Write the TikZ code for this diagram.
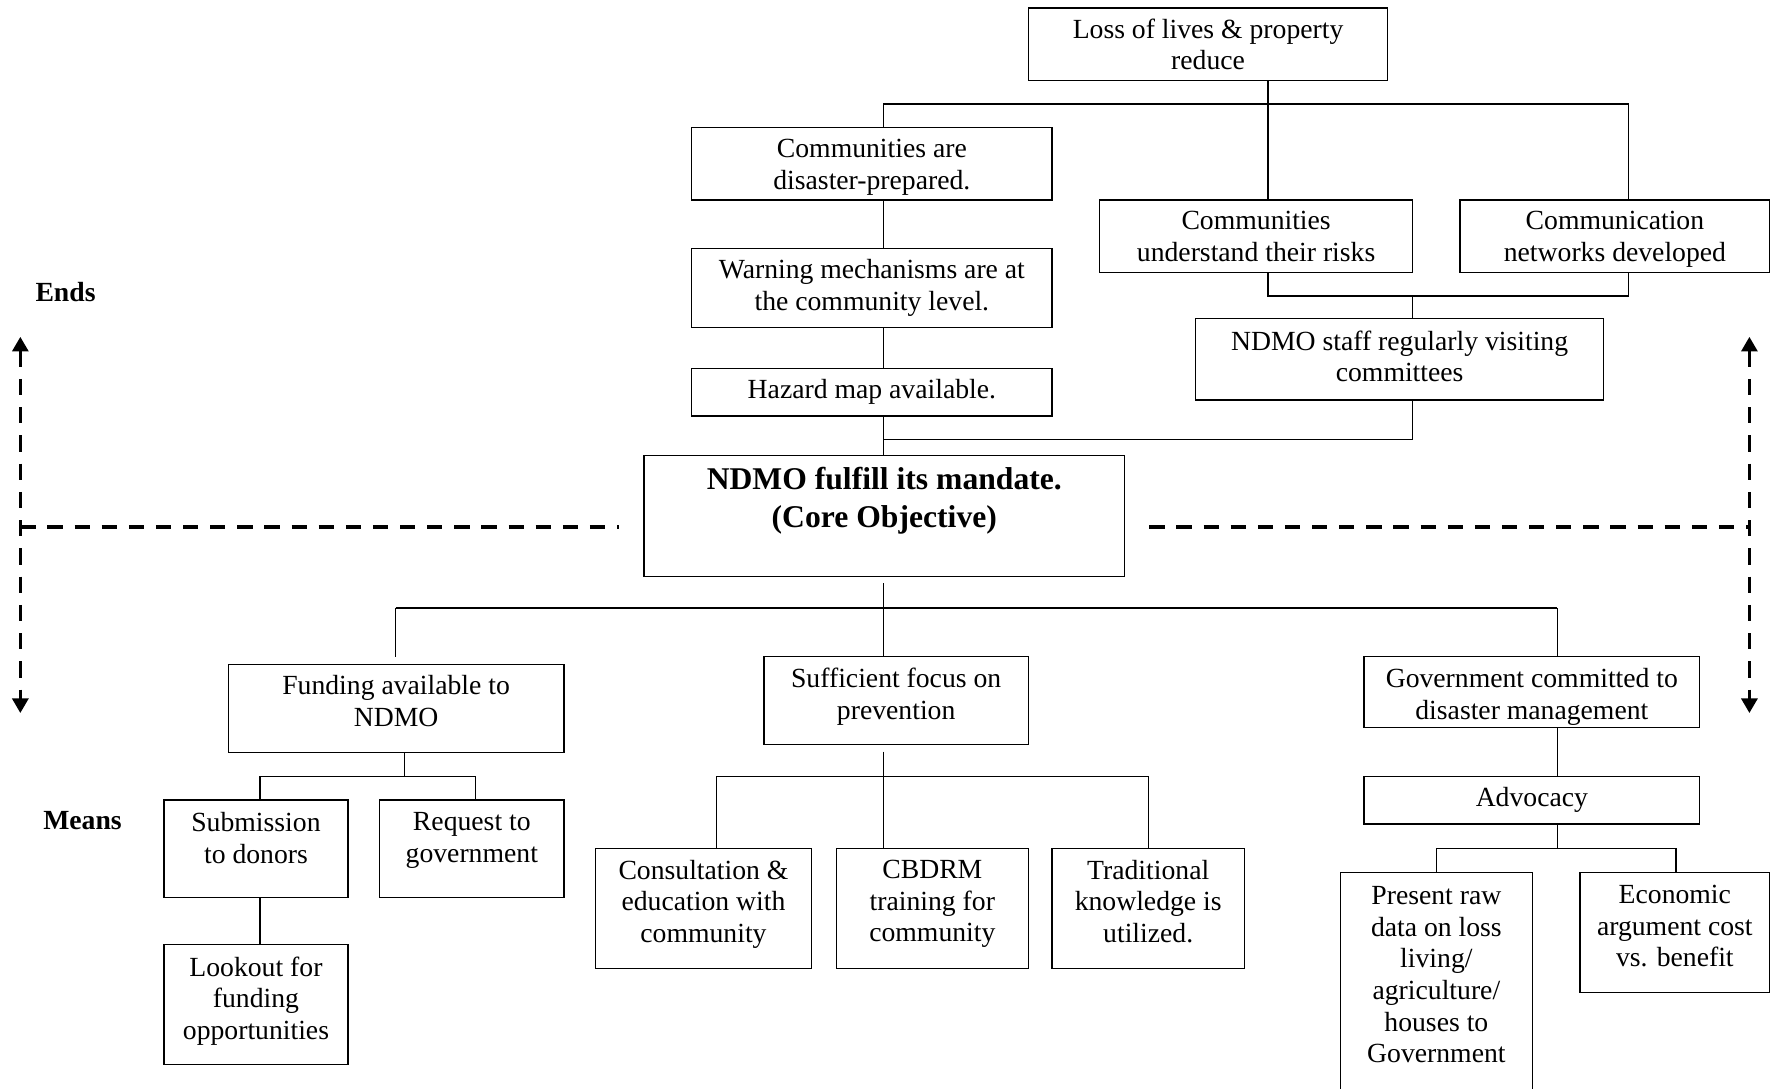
\documentclass[tikz,border=0pt]{standalone}
\usepackage{fontspec}
\setmainfont{Liberation Serif}
\usetikzlibrary{arrows.meta,calc}

\tikzset{
  box/.style={draw, line width=1.2pt, inner sep=0pt, outer sep=0pt},
  txt/.style={inner sep=0pt, align=center, font=\fontsize{24.5}{28}\selectfont,
    execute at begin node=\strut, execute at end node=\strut},
  coretxt/.style={inner sep=0pt, align=center, font=\fontsize{28}{33}\selectfont\bfseries,
    execute at begin node=\strut, execute at end node=\strut},
  side/.style={inner sep=0pt, font=\fontsize{24.5}{28}\selectfont\bfseries},
  link/.style={line width=1.2pt},
  splitline/.style={line width=3.5pt, dash pattern=on 13.5pt off 10.5pt},
  spanarrow/.style={line width=3.2pt, dash pattern=on 14.5pt off 10.5pt,
    {Triangle[length=13pt,width=14pt]}-{Triangle[length=13pt,width=14pt]}}
}

% \cbox{name}{x1}{y1}{x2}{y2}{text centre y}{text}
\newcommand\cbox[7]{%
  \node[box, anchor=north west, minimum width={(#4-#2)*1pt},
        minimum height={(#5-#3)*1pt}] (#1) at (#2,#3) {};
  \node[txt] (#1-t) at ({(#2+#4)/2},{#6+4.5}) {#7};}

\begin{document}
\begin{tikzpicture}[x=1pt, y=-1pt]
\useasboundingbox (0,0) rectangle (1568,963);

% ---- ends side ----
\cbox{loss}{910}{7}{1228}{71}{39}{Loss of lives \& property\\reduce}
\cbox{prep}{612}{113}{931}{177}{145}{Communities are\\disaster-prepared.}
\cbox{warn}{612}{220}{931}{290}{252}{Warning mechanisms are at\\the community level.}
\cbox{hazard}{612}{326}{931}{368}{342.5}{Hazard map available.}
\cbox{understand}{973}{177}{1250}{241}{209}{Communities\\understand their risks}
\cbox{comm}{1292}{177}{1566}{241}{209}{Communication\\networks developed}
\cbox{staff}{1058}{282}{1419}{354}{315}{NDMO staff regularly visiting\\committees}

% ---- core objective ----
\node[box, anchor=north west, minimum width=425pt, minimum height=107pt] (core) at (570,403) {};
\node[coretxt] (core-t) at (782.5,445) {NDMO fulfill its mandate.\\(Core Objective)};

% ---- means side ----
\cbox{fund}{202}{588}{499}{666}{620}{Funding available to\\NDMO}
\cbox{focus}{676}{581}{910}{659}{613.5}{Sufficient focus on\\prevention}
\cbox{gov}{1207}{581}{1504}{644}{613.5}{Government committed to\\disaster management}
\cbox{adv}{1207}{687}{1504}{729}{703.5}{Advocacy}
\cbox{sub}{145}{708}{308}{794}{741}{Submission\\to donors}
\cbox{req}{336}{708}{499}{794}{741}{Request to\\government}
\cbox{look}{145}{836}{308}{942}{883}{Lookout for\\funding\\opportunities}
\cbox{cons}{527}{751}{718}{857}{797}{Consultation \&\\education with\\community}
\cbox{cbdrm}{740}{751}{910}{857}{797}{CBDRM\\training for\\community}
\cbox{trad}{931}{751}{1101}{857}{797}{Traditional\\knowledge is\\utilized.}
\cbox{raw}{1186}{772}{1356}{970}{862}{Present raw\\data on loss\\living/\\agriculture/\\houses to\\Government}
\cbox{econ}{1398}{772}{1566}{878}{819}{Economic\\argument cost\\vs. benefit}

% ---- side labels ----
\node[side] (ends) at (58,258) {Ends};
\node[side] (means) at (73,726) {Means};

% ---- junction points ----
\coordinate (jA)  at (1122,92);
\coordinate (jAl) at (782,92);
\coordinate (jAr) at (1441,92);
\coordinate (jBl) at (1122,262);
\coordinate (jBm) at (1250,262);
\coordinate (jBr) at (1441,262);
\coordinate (jC)  at (1250,389);
\coordinate (jD)  at (782,538);
\coordinate (jDl) at (350,538);
\coordinate (jDr) at (1378,538);
\coordinate (jE)  at (358,687);
\coordinate (jEl) at (230,687);
\coordinate (jEr) at (421,687);
\coordinate (jF)  at (782,687);
\coordinate (jFl) at (634,687);
\coordinate (jFr) at (1016,687);
\coordinate (jG)  at (1378,751);
\coordinate (jGl) at (1271,751);
\coordinate (jGr) at (1483,751);

% ---- upper tree ----
\draw[link] (loss.south -| jA) -- (understand.north -| jA);
\draw[link] (prep.north -| jAl) -- (jAl) -- (jAr) -- (comm.north -| jAr);
\draw[link] (prep.south -| jAl) -- (warn.north -| jAl);
\draw[link] (warn.south -| jAl) -- (hazard.north -| jAl);
\draw[link] (hazard.south -| jAl) -- (core.north -| jAl);
\draw[link] (understand.south -| jBl) -- (jBl) -- (jBr) -- (comm.south -| jBr);
\draw[link] (jBm) -- (staff.north -| jBm);
\draw[link] (staff.south -| jC) -- (jC) -- (jC -| jAl);

% ---- lower tree ----
\draw[link, shorten <=6pt] (core.south -| jD) -- (jD);
\draw[link] (jDl) -- (jDr);
\draw[link, shorten >=7pt] (jDl) -- (fund.north -| jDl);
\draw[link] (jD) -- (focus.north -| jD);
\draw[link] (jDr) -- (gov.north -| jDr);

\draw[link] (fund.south -| jE) -- (jE);
\draw[link] (sub.north -| jEl) -- (jEl) -- (jEr) -- (req.north -| jEr);
\draw[link] (sub.south -| jEl) -- (look.north -| jEl);

\draw[link, shorten <=6pt] (focus.south -| jF) -- (jF);
\draw[link] (cons.north -| jFl) -- (jFl) -- (jFr) -- (trad.north -| jFr);
\draw[link] (jF) -- (cbdrm.north -| jF);

\draw[link] (gov.south -| jDr) -- (adv.north -| jDr);
\draw[link] (adv.south -| jG) -- (jG);
\draw[link] (raw.north -| jGl) -- (jGl) -- (jGr) -- (econ.north -| jGr);

% ---- ends / means divider ----
\coordinate (hL1) at (18,466);
\coordinate (hL2) at (548,466);
\coordinate (hR1) at (1017,466);
\coordinate (hR2) at (1548,466);
\draw[splitline] (hL1) -- (hL2);
\draw[splitline] (hR1) -- (hR2);

\coordinate (vL1) at (18,298);
\coordinate (vL2) at (18,631);
\coordinate (vR1) at (1548,298);
\coordinate (vR2) at (1548,631);
\draw[spanarrow] (vL1) -- (vL2);
\draw[spanarrow] (vR1) -- (vR2);
\end{tikzpicture}
\end{document}
